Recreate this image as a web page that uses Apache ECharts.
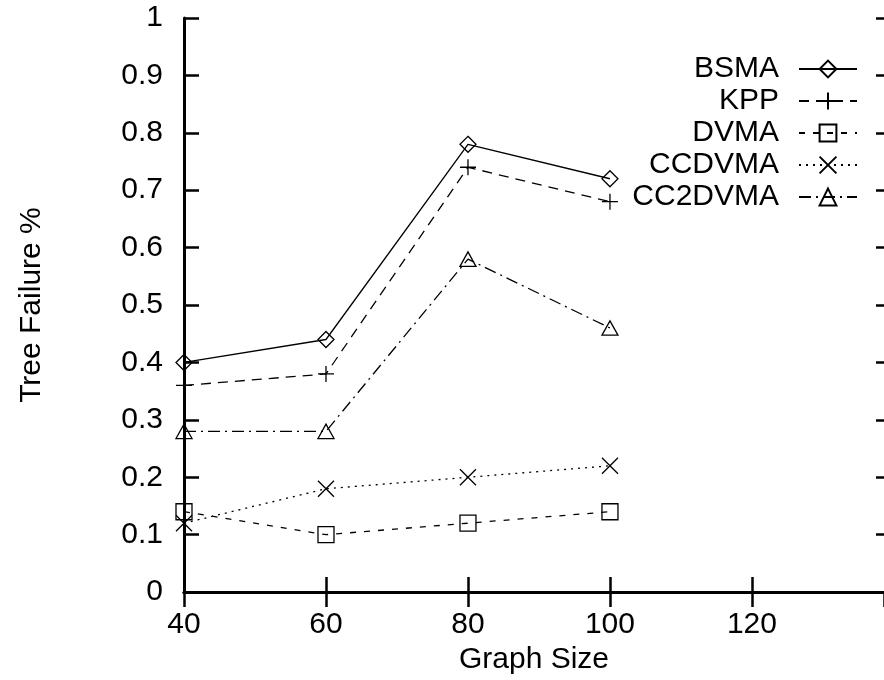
<!DOCTYPE html>
<html>
<head>
<meta charset="utf-8">
<script src="https://cdn.jsdelivr.net/npm/echarts@6/dist/echarts.min.js"></script>
<style>html,body{margin:0;padding:0;background:#fff}#c{width:884px;height:680px}</style>
</head>
<body>
<div id="c"></div>
<script>
const graphSizes = [40, 60, 80, 100];
const bsma = [0.40, 0.44, 0.78, 0.72];
const kpp = [0.36, 0.38, 0.74, 0.68];
const dvma = [0.14, 0.10, 0.12, 0.14];
const ccdvma = [0.12, 0.18, 0.20, 0.22];
const cc2dvma = [0.28, 0.28, 0.58, 0.46];
const seriesNames = ['BSMA', 'KPP', 'DVMA', 'CCDVMA', 'CC2DVMA'];

const FONT = 'Liberation Sans';
const FS = 30;
const sym = {
  diamond: 'path://M0,-1L1,0L0,1L-1,0Z',
  plus: 'path://M0,-1L0,1M-1,0L1,0',
  square: 'path://M-1,-1L1,-1L1,1L-1,1Z',
  cross: 'path://M-1,-1L1,1M1,-1L-1,1',
  triangle: 'path://M0,-1L1,0.8L-1,0.8Z'
};
function mk(name, vals, symbol, type) {
  return {
    name: name,
    type: 'line',
    data: graphSizes.map((x, i) => [x, vals[i]]),
    symbol: symbol,
    symbolSize: 16,
    symbolKeepAspect: true,
    showAllSymbol: true,
    lineStyle: { color: '#000', width: 1.3, type: type },
    itemStyle: { color: 'none', borderColor: '#000', borderWidth: 1.3 },
    emphasis: { disabled: true },
    animation: false
  };
}
const chart = echarts.init(document.getElementById('c'));
const tickStyle = { show: true, inside: true, length: 15, lineStyle: { color: '#000', width: 2.5 } };
const lineSt = { show: true, lineStyle: { color: '#000', width: 3 } };
chart.setOption({
  animation: false,
  textStyle: { fontFamily: FONT },
  grid: { left: 184, top: 18, width: 700, height: 575, containLabel: false },
  legend: {
    orient: 'vertical',
    right: 26,
    top: 53,
    padding: 0,
    align: 'right',
    itemWidth: 58,
    itemHeight: 21,
    itemGap: 0,
    textStyle: { fontFamily: FONT, fontSize: FS, color: '#000', lineHeight: 32, padding: [0, 15, 0, 0] },
    data: seriesNames,
    selectedMode: false
  },
  xAxis: [{
    type: 'value', min: 40, max: 138.6, interval: 20,
    position: 'bottom',
    name: 'Graph Size', nameLocation: 'middle', nameGap: 52,
    nameTextStyle: { fontFamily: FONT, fontSize: FS, color: '#000' },
    axisLine: lineSt, axisTick: tickStyle,
    axisLabel: { color: '#000', fontSize: FS, fontFamily: FONT, margin: 18, showMaxLabel: false },
    splitLine: { show: false }
  }, {
    type: 'value', min: 40, max: 138.6, interval: 20,
    position: 'top',
    axisLine: lineSt, axisTick: tickStyle,
    axisLabel: { show: false }, splitLine: { show: false }
  }],
  yAxis: [{
    type: 'value', min: 0, max: 1, interval: 0.1,
    position: 'left',
    name: 'Tree Failure %', nameLocation: 'middle', nameGap: 137,
    nameTextStyle: { fontFamily: FONT, fontSize: FS, color: '#000' },
    axisLine: lineSt, axisTick: tickStyle,
    axisLabel: { color: '#000', fontSize: FS, fontFamily: FONT, margin: 21,
      formatter: v => String(Math.round(v * 10) / 10) },
    splitLine: { show: false }
  }, {
    type: 'value', min: 0, max: 1, interval: 0.1,
    position: 'right', offset: 8,
    axisLine: lineSt, axisTick: { show: true, inside: true, length: 16, lineStyle: { color: '#000', width: 2.5 } },
    axisLabel: { show: false }, splitLine: { show: false }
  }],
  series: [
    mk('BSMA', bsma, sym.diamond, 'solid'),
    mk('KPP', kpp, sym.plus, [10, 7]),
    mk('DVMA', dvma, sym.square, [6, 8]),
    mk('CCDVMA', ccdvma, sym.cross, [2, 5]),
    mk('CC2DVMA', cc2dvma, sym.triangle, [12, 5, 2, 5])
  ]
});
</script>
</body>
</html>
